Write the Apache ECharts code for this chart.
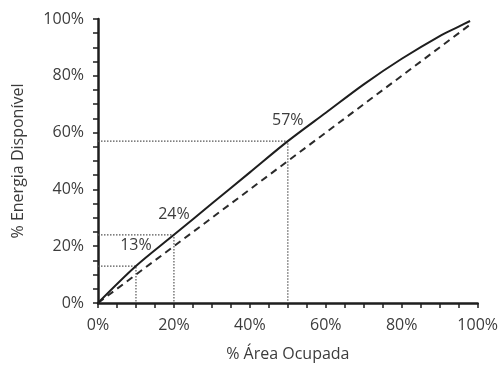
<!DOCTYPE html>
<html>
<head>
<meta charset="utf-8">
<script src="https://cdn.jsdelivr.net/npm/echarts@6/dist/echarts.min.js"></script>
<style>
  html, body { margin: 0; padding: 0; background: #fff; }
  #chart { width: 501px; height: 367px; }
</style>
</head>
<body>
<div id="chart"></div>
<script>
// Share of occupied area (%) vs share of available energy (%)
const curveX = [0, 10, 20, 30, 40, 50, 60, 70, 80, 90, 95, 98];
const curveY = [0, 13, 24, 35, 46, 57, 67, 77, 86, 94, 97.3, 99.3];

// Reference diagonal (energy proportional to area)
const diagX = [0, 98];
const diagY = [0, 98];

// Highlighted points with their guide lines
const markX = [10, 20, 50];
const markY = [13, 24, 57];

const tickLabels = ['0%', '20%', '40%', '60%', '80%', '100%'];

const FONT = '"Open Sans", "Noto Sans", sans-serif';
const TEXT = '#3c3c3c';
const INK = '#1e1e1e';

function labelFor(v) {
  const i = Math.round(v / 20);
  return (v % 20 === 0 && tickLabels[i] !== undefined) ? tickLabels[i] : '';
}

const guideSeries = markX.map((x, i) => ({
  type: 'line',
  data: [[0, markY[i]], [x, markY[i]], [x, 0]],
  symbol: 'none',
  silent: true,
  z: 1,
  lineStyle: { color: '#555', width: 1.2, type: [1.5, 1.5] }
}));

const option = {
  animation: false,
  backgroundColor: '#fff',
  grid: { left: 98, right: 21, top: 19, bottom: 63, containLabel: false },
  xAxis: {
    type: 'value', min: 0, max: 100, interval: 5,
    name: '% Área Ocupada', nameLocation: 'middle', nameGap: 43,
    nameTextStyle: { fontFamily: FONT, fontSize: 16, color: TEXT },
    axisLine: { show: true, lineStyle: { color: INK, width: 2.5 } },
    axisTick: { show: true, length: 5, lineStyle: { color: INK, width: 1.5 } },
    axisLabel: { formatter: labelFor, fontFamily: FONT, fontSize: 16, color: TEXT, margin: 14, showMinLabel: true, showMaxLabel: true },
    splitLine: { show: false }
  },
  yAxis: {
    type: 'value', min: 0, max: 100, interval: 5,
    name: '% Energia Disponível', nameLocation: 'middle', nameGap: 72, nameRotate: 90,
    nameTextStyle: { fontFamily: FONT, fontSize: 16, color: TEXT },
    axisLine: { show: true, lineStyle: { color: INK, width: 2.5 } },
    axisTick: { show: true, length: 5, lineStyle: { color: INK, width: 1.5 } },
    axisLabel: { formatter: labelFor, fontFamily: FONT, fontSize: 16, color: TEXT, margin: 14, showMinLabel: true, showMaxLabel: true },
    splitLine: { show: false }
  },
  series: [
    ...guideSeries,
    {
      type: 'line',
      data: diagX.map((x, i) => [x, diagY[i]]),
      symbol: 'none',
      z: 2,
      lineStyle: { color: '#2a2a2a', width: 2, type: [7, 5] }
    },
    {
      type: 'line',
      data: curveX.map((x, i) => [x, curveY[i]]),
      symbol: 'none',
      smooth: 0.3,
      z: 3,
      lineStyle: { color: INK, width: 2 }
    },
    {
      type: 'scatter',
      data: markX.map((x, i) => [x, markY[i]]),
      symbolSize: 1,
      itemStyle: { color: 'rgba(0,0,0,0)', opacity: 1 },
      z: 4,
      label: {
        show: true, position: 'top', distance: 12,
        formatter: p => p.value[1] + '%',
        fontFamily: FONT, fontSize: 16, color: TEXT, opacity: 1
      }
    }
  ]
};

const chart = echarts.init(document.getElementById('chart'), null, { renderer: 'canvas' });
chart.setOption(option);
</script>
</body>
</html>
